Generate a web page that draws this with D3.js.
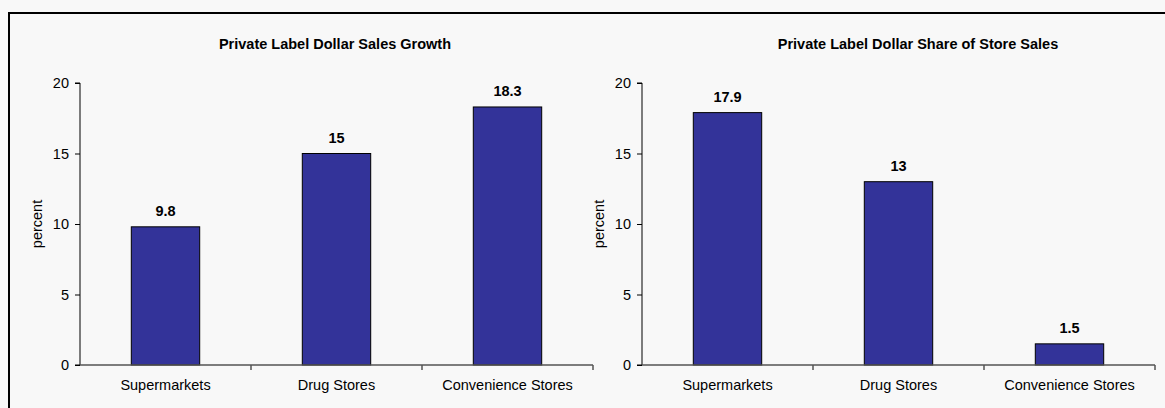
<!DOCTYPE html>
<html><head><meta charset="utf-8">
<script src="https://cdn.jsdelivr.net/npm/d3@7"></script>
<style>
html,body{margin:0;padding:0;background:#f8f8f8;}
svg{display:block;}
text{font-family:"Liberation Sans",Arial,sans-serif;fill:#000;}
</style></head>
<body>
<svg id="chart" width="1165" height="408"></svg>
<script>
const categories = ["Supermarkets", "Drug Stores", "Convenience Stores"];
const growthValues = [9.8, 15, 18.3];
const shareValues = [17.9, 13, 1.5];
const growthLabels = ["9.8", "15", "18.3"];
const shareLabels = ["17.9", "13", "1.5"];
const yTicks = [0, 5, 10, 15, 20];
const titles = ["Private Label Dollar Sales Growth", "Private Label Dollar Share of Store Sales"];
const yTitle = "percent";

const FS = 14.5;
const svg = d3.select("#chart");
svg.append("rect").attr("x", 0).attr("y", 0).attr("width", 1165).attr("height", 408).attr("fill", "#f8f8f8");
svg.append("rect").attr("x", 9).attr("y", 13).attr("width", 1300).attr("height", 600)
  .attr("fill", "none").attr("stroke", "#000").attr("stroke-width", 2);

const panels = [
  {x0: 80, x1: 593, values: growthValues, labels: growthLabels, title: titles[0], titleX: 335, yTitleX: 37},
  {x0: 642, x1: 1155, values: shareValues, labels: shareLabels, title: titles[1], titleX: 918, yTitleX: 599}
];

const yTop = 83, yBot = 365;

panels.forEach(p => {
  const g = svg.append("g");
  const x = d3.scaleBand().domain(categories).range([p.x0, p.x1]).paddingInner(0).paddingOuter(0);
  const y = d3.scaleLinear().domain([0, 20]).range([yBot, yTop]);

  g.append("text").attr("x", p.titleX).attr("y", 49).attr("text-anchor", "middle")
    .attr("font-size", FS).attr("font-weight", "bold").text(p.title);

  g.append("text").attr("transform", `translate(${p.yTitleX + 5},${224}) rotate(-90)`)
    .attr("text-anchor", "middle").attr("font-size", FS).text(yTitle);

  const bw = x.bandwidth() * 0.4;
  g.selectAll("rect.bar").data(p.values).enter().append("rect")
    .attr("x", (d, i) => x(categories[i]) + (x.bandwidth() - bw) / 2)
    .attr("y", d => y(d))
    .attr("width", bw)
    .attr("height", d => y(0) - y(d))
    .attr("fill", "#333399").attr("stroke", "#000").attr("stroke-width", 1);

  g.selectAll("text.val").data(p.values).enter().append("text")
    .attr("x", (d, i) => x(categories[i]) + x.bandwidth() / 2)
    .attr("y", d => y(d) - 11)
    .attr("text-anchor", "middle").attr("font-size", FS).attr("font-weight", "bold")
    .text((d, i) => p.labels[i]);

  const yAxis = d3.axisLeft(y).tickValues(yTicks).tickSize(5).tickPadding(6).tickFormat(d3.format("d"));
  const ya = g.append("g").attr("transform", `translate(${p.x0},0)`).call(yAxis);
  ya.select(".domain").attr("stroke", "#000").attr("d", `M-5,${yTop}H0V${yBot}H-5`);
  ya.selectAll(".tick line").attr("stroke", "#000");
  ya.selectAll(".tick text").attr("font-size", FS).attr("font-family", "Liberation Sans, Arial, sans-serif").attr("fill", "#000");

  const xAxis = d3.axisBottom(x).tickSize(0).tickPadding(15);
  const xa = g.append("g").attr("transform", `translate(0,${yBot})`).call(xAxis);
  xa.select(".domain").attr("stroke", "#555").attr("stroke-width", 1.5).attr("d", `M${p.x0},0H${p.x1}`);
  xa.selectAll(".tick text").attr("font-size", FS).attr("font-family", "Liberation Sans, Arial, sans-serif").attr("fill", "#000");
  const bounds = categories.map(c => x(c)).slice(1).concat([p.x1]);
  xa.selectAll("line.bt").data(bounds).enter().append("line")
    .attr("x1", d => d).attr("x2", d => d).attr("y1", 0).attr("y2", 5)
    .attr("stroke", "#555").attr("stroke-width", 1.5);
});
</script>
</body></html>
